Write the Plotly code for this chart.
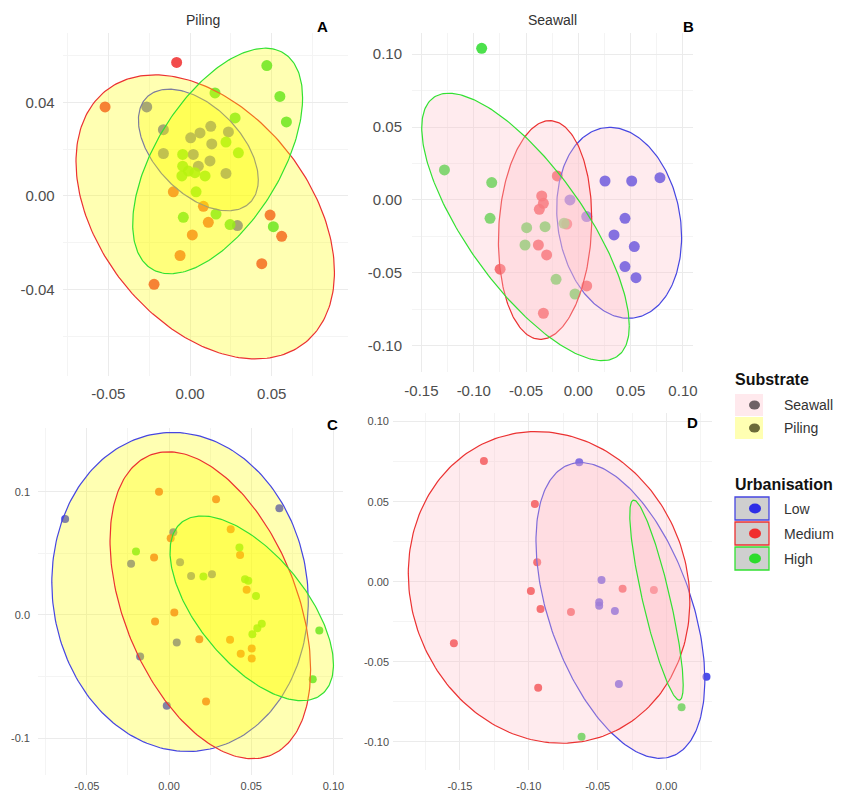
import numpy as np
import plotly.graph_objects as go

W, H = 859, 796

# ---------------- DATA ----------------
# Panel A (Piling)
a_low_x = [-0.0265, -0.0163, 0.0004, 0.0061, 0.0127, 0.0235, 0.0133, -0.0163, 0.002, 0.0122, 0.0051, 0.022, 0.029]
a_low_y = [0.038, 0.0283, 0.0248, 0.0269, 0.0297, 0.0273, 0.0222, 0.0181, 0.0177, 0.0149, 0.0127, 0.0096, -0.0127]
a_med_x = [-0.0082, -0.052, -0.0102, 0.0082, 0.0112, 0.049, 0.0561, 0.0014, -0.0061, 0.0439, -0.022]
a_med_y = [0.057, 0.038, 0.0017, -0.0045, -0.0113, -0.0082, -0.0173, -0.0167, -0.0255, -0.029, -0.0378]
a_high_x = [0.0153, 0.047, 0.055, 0.059, 0.0276, 0.022, 0.0296, -0.0045, -0.0045, -0.001, 0.003, 0.0092, -0.005, 0.0037, -0.0041, 0.0159, 0.0245, 0.051]
a_high_y = [0.044, 0.0557, 0.0425, 0.0316, 0.0333, 0.023, 0.0184, 0.0177, 0.0127, 0.0106, 0.0099, 0.0085, 0.0085, 0.0017, -0.0092, -0.0078, -0.0123, -0.0132]

# Panel B (Seawall)
b_low_x = [-0.008, 0.008, 0.0255, 0.051, 0.078, 0.0446, 0.0341, 0.0535, 0.0446, 0.0551]
b_low_y = [0.0, -0.0114, 0.013, 0.013, 0.0153, -0.0126, -0.024, -0.032, -0.0457, -0.0533]
b_med_x = [-0.0201, -0.035, -0.0334, -0.0373, -0.0382, -0.0303, -0.0748, -0.0111, 0.008, -0.0334]
b_med_y = [0.0165, 0.0027, -0.0023, -0.0064, -0.0309, -0.0377, -0.0475, -0.0165, -0.059, -0.0777]
b_high_x = [-0.0924, -0.128, -0.0828, -0.0844, -0.0494, -0.0318, -0.051, -0.0137, -0.0213, -0.0032]
b_high_y = [0.104, 0.0206, 0.0119, -0.0126, -0.019, -0.0183, -0.0309, -0.016, -0.0544, -0.0645]

# Panel C
c_low_x = [-0.0632, 0.0671, 0.0026, -0.0231, 0.0067, 0.0134, 0.0261, 0.0047, -0.0176, -0.0014]
c_low_y = [0.0778, 0.0865, 0.067, 0.0414, 0.0427, 0.0316, 0.033, -0.0224, -0.0338, -0.0738]
c_med_x = [-0.0061, 0.0286, 0.0375, 0.001, -0.0091, 0.0432, 0.0472, 0.0032, -0.0085, 0.0184, 0.0371, 0.0503, 0.0436, 0.0503, 0.0225]
c_med_y = [0.1, 0.0938, 0.0695, 0.0622, 0.0465, 0.0486, 0.0203, 0.0019, -0.0054, -0.0197, -0.0203, -0.0273, -0.0316, -0.0354, -0.0703]
c_high_x = [-0.0201, 0.0428, 0.0209, 0.0462, 0.0482, 0.0529, 0.0564, 0.0537, 0.0507, 0.0914, 0.0874]
c_high_y = [0.0514, 0.0546, 0.0311, 0.0289, 0.0276, 0.0154, -0.0073, -0.0108, -0.0157, -0.0127, -0.0522]

# Panel D
d_low_x = [-0.0634, -0.0472, -0.0489, -0.0489, -0.0375, -0.0346, 0.029]
d_low_y = [0.0746, 0.001, -0.0129, -0.015, -0.0183, -0.064, -0.0594]
d_med_x = [-0.1326, -0.0956, -0.0939, -0.0985, -0.0915, -0.0694, -0.0319, -0.0092, -0.1544, -0.0932]
d_med_y = [0.0754, 0.0485, 0.0121, -0.0058, -0.0171, -0.019, -0.0044, -0.0052, -0.0385, -0.0663]
d_high_x = [0.0109, -0.0617]
d_high_y = [-0.0785, -0.0969]

# Ellipses: centre x, centre y, half-width, half-height, tilt (Low, Medium, High)
a_ell = [(0.0051, 0.0196, 0.0367, 0.026, -0.49),
         (0.0093, -0.009, 0.0791, 0.0607, -0.39),
         (0.0169, 0.0149, 0.052, 0.0482, 0.56)]
b_ell = [(0.039, -0.0157, 0.0597, 0.0655, -0.15),
         (-0.0318, -0.0206, 0.0446, 0.075, 0.10),
         (-0.0505, -0.0185, 0.0992, 0.0917, -0.74)]
c_ell = [(0.0067, 0.0186, 0.078, 0.1295, -0.06),
         (0.0251, 0.0078, 0.061, 0.1246, -0.42),
         (0.0503, 0.0053, 0.0497, 0.075, -0.61)]
d_ell = [(-0.0335, -0.018, 0.0613, 0.0924, -0.47),
         (-0.0853, -0.0036, 0.1022, 0.0974, -0.09),
         (-0.0073, -0.0115, 0.0194, 0.0625, -0.85)]

# Tick labels
a_xt = [-0.05, 0.0, 0.05]; a_xl = ["-0.05", "0.00", "0.05"]
a_yt = [-0.04, 0.0, 0.04]; a_yl = ["-0.04", "0.00", "0.04"]
b_xt = [-0.15, -0.10, -0.05, 0.0, 0.05, 0.10]; b_xl = ["-0.15", "-0.10", "-0.05", "0.00", "0.05", "0.10"]
b_yt = [-0.10, -0.05, 0.0, 0.05, 0.10]; b_yl = ["-0.10", "-0.05", "0.00", "0.05", "0.10"]
c_xt = [-0.05, 0.0, 0.05, 0.10]; c_xl = ["-0.05", "0.00", "0.05", "0.10"]
c_yt = [-0.1, 0.0, 0.1]; c_yl = ["-0.1", "0.0", "0.1"]
d_xt = [-0.15, -0.10, -0.05, 0.0]; d_xl = ["-0.15", "-0.10", "-0.05", "0.00"]
d_yt = [-0.10, -0.05, 0.0, 0.05, 0.10]; d_yl = ["-0.10", "-0.05", "0.00", "0.05", "0.10"]

a_xminor = [-0.075, -0.025, 0.025, 0.075]; a_yminor = [-0.06, -0.02, 0.02, 0.06]
b_xminor = [-0.125, -0.075, -0.025, 0.025, 0.075]; b_yminor = [-0.075, -0.025, 0.025, 0.075]
c_xminor = [-0.075, -0.025, 0.025, 0.075]; c_yminor = [-0.05, 0.05]
d_xminor = [-0.175, -0.125, -0.075, -0.025, 0.025]; d_yminor = [-0.075, -0.025, 0.025, 0.075]

substrate_labels = ["Seawall", "Piling"]
urban_labels = ["Low", "Medium", "High"]

# ---------------- STYLE ----------------
PT = {"Low": "rgb(45,45,230)", "Medium": "rgb(240,45,45)", "High": "rgb(45,220,45)"}
LN = {"Low": "rgb(70,70,225)", "Medium": "rgb(235,50,50)", "High": "rgb(50,225,50)"}
FILL = {"Piling": "rgba(255,255,0,0.30)", "Seawall": "rgba(255,192,203,0.32)"}
FONT = "Liberation Sans, Arial, sans-serif"


def px_x(p):
    return p / W


def px_y(p):
    return 1 - p / H


fig = go.Figure()

panels = [
    # suffix, x px domain, y px domain (top, bottom), x range, y range, substrate, points, ellipses,
    # ticks, font size, marker size, x/y label standoff
    ("", (62.6, 348), (33, 376), (-0.078, 0.0967), (-0.077, 0.0696), "Piling",
     [(a_low_x, a_low_y), (a_med_x, a_med_y), (a_high_x, a_high_y)], a_ell,
     (a_xt, a_xl, a_yt, a_yl, a_xminor, a_yminor), 15, 11, (7, 7)),
    ("2", (412, 693), (33, 372), (-0.159, 0.1096), (-0.118, 0.1145), "Seawall",
     [(b_low_x, b_low_y), (b_med_x, b_med_y), (b_high_x, b_high_y)], b_ell,
     (b_xt, b_xl, b_yt, b_yl, b_xminor, b_yminor), 15, 11, (8, 9)),
    ("3", (38, 343), (428, 775), (-0.0797, 0.1058), (-0.13, 0.1517), "Piling",
     [(c_low_x, c_low_y), (c_med_x, c_med_y), (c_high_x, c_high_y)], c_ell,
     (c_xt, c_xl, c_yt, c_yl, c_xminor, c_yminor), 11, 8, (3, 7)),
    ("4", (393, 712), (413, 770), (-0.1986, 0.033), (-0.1177, 0.1054), "Seawall",
     [(d_low_x, d_low_y), (d_med_x, d_med_y), (d_high_x, d_high_y)], d_ell,
     (d_xt, d_xl, d_yt, d_yl, d_xminor, d_yminor), 11, 8, (8, 3)),
]

t = np.linspace(0, 2 * np.pi, 241)

for (suf, xdom, ydom, xr, yr, sub, pts, ells, ticks, fs, ms, so) in panels:
    xa = "x" + suf
    ya = "y" + suf
    for lab, (xs, ys) in zip(urban_labels, pts):
        fig.add_trace(go.Scatter(x=xs, y=ys, mode="markers", xaxis=xa, yaxis=ya,
                                 marker=dict(size=ms, color=PT[lab], opacity=0.85, line=dict(width=0)),
                                 showlegend=False, hoverinfo="x+y", name=lab))
    for lab, (cx, cy, rx, ry, c) in zip(urban_labels, ells):
        phi = np.arccos(c)
        ex = cx + rx * np.cos(t)
        ey = cy + ry * np.cos(t - phi)
        fig.add_trace(go.Scatter(x=ex, y=ey, mode="lines", fill="toself", fillcolor=FILL[sub],
                                 line=dict(color=LN[lab], width=1.2), xaxis=xa, yaxis=ya,
                                 showlegend=False, hoverinfo="skip", name=lab))
    xt, xl, yt, yl, xmin, ymin = ticks
    common = dict(showline=False, zeroline=False, ticks="", gridcolor="#ebebeb", gridwidth=1,
                  automargin=False, tickfont=dict(family=FONT, size=fs, color="#4d4d4d"))
    fig.update_layout(**{
        "xaxis" + suf: dict(domain=[px_x(xdom[0]), px_x(xdom[1])], range=list(xr), anchor=ya,
                            tickmode="array", tickvals=xt, ticktext=xl, ticklabelstandoff=so[0],
                            minor=dict(tickmode="array", tickvals=xmin, showgrid=True, gridcolor="#f4f4f4", gridwidth=1),
                            **common),
        "yaxis" + suf: dict(domain=[px_y(ydom[1]), px_y(ydom[0])], range=list(yr), anchor=xa,
                            tickmode="array", tickvals=yt, ticktext=yl, ticklabelstandoff=so[1],
                            minor=dict(tickmode="array", tickvals=ymin, showgrid=True, gridcolor="#f4f4f4", gridwidth=1),
                            **common),
    })

annotations = []


def ann(text, x, y, size, color="#333333", bold=False, xanchor="center"):
    annotations.append(dict(text=("<b>%s</b>" % text) if bold else text, x=px_x(x), y=px_y(y),
                            xref="paper", yref="paper", showarrow=False, xanchor=xanchor, yanchor="middle",
                            font=dict(family=FONT, size=size, color=color)))


ann("Piling", 203, 20, 14)
ann("Seawall", 552, 20, 14)
ann("A", 322, 27, 15, "#000000", True)
ann("B", 688, 27, 15, "#000000", True)
ann("C", 332, 425, 15, "#000000", True)
ann("D", 692, 422, 15, "#000000", True)

# Legend (drawn manually)
shapes = []
ann("Substrate", 733, 379, 16, "#111111", True, "left")
sub_fill = ["rgba(255,192,203,0.35)", "rgba(255,255,0,0.30)"]
sub_dot = ["#6e6266", "#6b6a38"]
for i, lab in enumerate(substrate_labels):
    top = 394 + i * 23
    shapes.append(dict(type="rect", xref="paper", yref="paper", x0=px_x(735), x1=px_x(763),
                       y0=px_y(top + 22), y1=px_y(top), fillcolor=sub_fill[i], line=dict(width=0), layer="above"))
    cyy = top + 11
    shapes.append(dict(type="circle", xref="paper", yref="paper", x0=px_x(749), x1=px_x(760),
                       y0=px_y(cyy + 4.5), y1=px_y(cyy - 4.5), fillcolor=sub_dot[i], line=dict(width=0), layer="above"))
    ann(lab, 782, cyy, 14, "#333333", False, "left")

ann("Urbanisation", 733, 485, 16, "#111111", True, "left")
for i, lab in enumerate(urban_labels):
    top = 497 + i * 25
    shapes.append(dict(type="rect", xref="paper", yref="paper", x0=px_x(735), x1=px_x(769),
                       y0=px_y(top + 23), y1=px_y(top), fillcolor="#cfcfcf",
                       line=dict(color=LN[lab], width=1.3), layer="above"))
    cyy = top + 11.5
    shapes.append(dict(type="circle", xref="paper", yref="paper", x0=px_x(749), x1=px_x(761),
                       y0=px_y(cyy + 5), y1=px_y(cyy - 5), fillcolor=PT[lab], line=dict(width=0), layer="above"))
    ann(lab, 782, cyy, 14, "#333333", False, "left")

fig.update_layout(width=W, height=H, margin=dict(l=0, r=0, t=0, b=0, pad=0, autoexpand=False),
                  paper_bgcolor="white", plot_bgcolor="white", showlegend=False,
                  annotations=annotations, shapes=shapes, font=dict(family=FONT))

fig.write_html("out.html", config={"displayModeBar": False},
               post_script="document.body.style.margin='0px';document.body.style.padding='0px';"
                           "document.documentElement.style.overflow='hidden';")
